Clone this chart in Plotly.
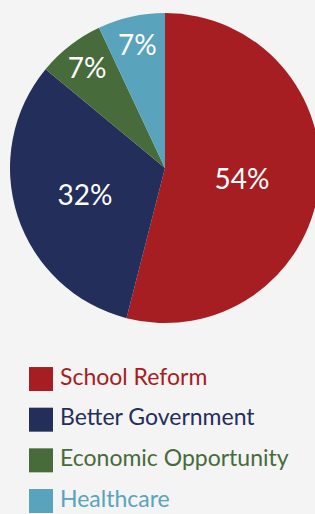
import plotly.graph_objects as go

categories = ["School Reform", "Better Government", "Economic Opportunity", "Healthcare"]
values = [54, 32, 7, 7]
colors = ["#A61E22", "#232F5A", "#476B3A", "#59A3BC"]

FONT = "Lato, 'Open Sans', sans-serif"
W, H = 320, 514

fig = go.Figure()
fig.add_trace(go.Pie(
    labels=categories,
    values=values,
    marker=dict(colors=colors, line=dict(width=0)),
    sort=False,
    direction="clockwise",
    rotation=0,
    textinfo="percent",
    textposition="inside",
    insidetextorientation="horizontal",
    insidetextfont=dict(color="white", size=28, family=FONT),
    showlegend=False,
    domain=dict(x=[10 / W, 1.0], y=[1 - 323 / H, 1 - 13 / H]),
    hoverinfo="label+percent",
))

# legend drawn as square markers plus category labels on a hidden axis
fig.add_trace(go.Scatter(
    x=[0] * len(categories),
    y=categories,
    mode="markers",
    marker=dict(symbol="square", size=24, color=colors, line=dict(width=0)),
    showlegend=False,
    hoverinfo="skip",
    cliponaxis=False,
))
fig.add_trace(go.Scatter(
    x=[19] * len(categories),
    y=categories,
    mode="text",
    text=categories,
    textposition="middle right",
    textfont=dict(color=colors, size=23, family=FONT),
    showlegend=False,
    hoverinfo="skip",
    cliponaxis=False,
))

fig.update_layout(
    width=W, height=H,
    margin=dict(l=0, r=0, t=0, b=0),
    paper_bgcolor="#F4F4F4",
    plot_bgcolor="#F4F4F4",
    font=dict(family=FONT),
    uniformtext=dict(minsize=28, mode="show"),
    xaxis=dict(visible=False, range=[-41, W - 41], domain=[0, 1], fixedrange=True),
    yaxis=dict(visible=False, type="category", range=[3.32, -0.5],
               domain=[0, (H - 358.7) / H], fixedrange=True),
    showlegend=False,
)

fig.write_html(
    "out.html",
    config={"displayModeBar": False},
    post_script="document.body.style.margin='0';document.body.style.overflow='hidden';",
)
